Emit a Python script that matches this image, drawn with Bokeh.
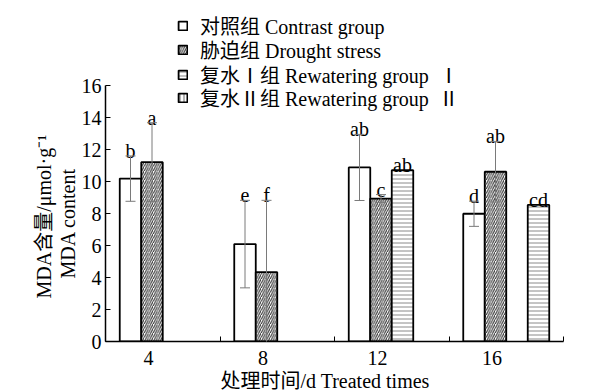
from bokeh.plotting import figure
from bokeh.models import (Range1d, FixedTicker, ColumnDataSource, Whisker, TeeHead,
                          Legend, LegendItem, Title)
from bokeh.embed import file_html
from bokeh.resources import INLINE
from bokeh.core.properties import value

# ---------------- data ----------------
days = [4, 8, 12, 16]
series_labels = ["对照组 Contrast group", "胁迫组 Drought stress",
                 "复水Ⅰ组 Rewatering group  Ⅰ", "复水Ⅱ组 Rewatering group  Ⅱ"]
contrast = [10.2, 6.1, 10.9, 8.0]
contrast_err = [1.42, 2.74, 2.07, 0.79]
contrast_sig = ["b", "e", "ab", "d"]
drought = [11.23, 4.34, 8.95, 10.63]
drought_err = [2.47, 4.5, 0.25, 1.9]
drought_sig = ["a", "f", "c", "ab"]
rewater1 = [None, None, 10.73, None]
rewater1_sig = [None, None, "ab", None]
rewater2 = [None, None, None, 8.55]
rewater2_sig = [None, None, None, "cd"]
y_ticks = [0, 2, 4, 6, 8, 10, 12, 14, 16]
x_label = "处理时间/d Treated times"
y_label_1 = "MDA含量/μmol·g⁻¹"
y_label_2 = "MDA content"

FONT = "'Liberation Serif', 'Noto Sans CJK SC', serif"
W, H = 592, 391
BAR_W = 0.751         # bar width in day units (slot = 4 days)
offsets = [0.5 + (i - 1.5) * BAR_W for i in range(4)]
Y_TOP = 21.354        # frame top so that 16 sits where the reference's axis ends

p = figure(width=W, height=H, x_range=Range1d(2.5, 18.5), y_range=Range1d(0, Y_TOP),
           output_backend="svg", toolbar_location=None,
           min_border_left=105, min_border_right=29, min_border_top=0, min_border_bottom=48)
p.outline_line_color = None
p.xgrid.grid_line_color = None
p.ygrid.grid_line_color = None

styles = [
    dict(fill_color="white"),
    dict(fill_color="white", hatch_pattern="/", hatch_color="#333333", hatch_scale=4.5, hatch_weight=1.1),
    dict(fill_color="white", hatch_pattern="-", hatch_color="#8a8a8a", hatch_scale=4, hatch_weight=1),
    dict(fill_color="white", hatch_pattern="-", hatch_color="#8a8a8a", hatch_scale=4, hatch_weight=1),
]

all_vals = [contrast, drought, rewater1, rewater2]
all_errs = [contrast_err, drought_err, None, None]
all_sigs = [contrast_sig, drought_sig, rewater1_sig, rewater2_sig]

renderers = []
sources = []
for i, (vals, errs, sigs) in enumerate(zip(all_vals, all_errs, all_sigs)):
    xs, tops, uppers, lowers, labs = [], [], [], [], []
    for j, v in enumerate(vals):
        if v is None:
            continue
        xs.append(days[j] + offsets[i])
        tops.append(v)
        e = errs[j] if errs else 0.0
        uppers.append(v + e)
        lowers.append(v - e)
        labs.append(sigs[j] or "")
    src = ColumnDataSource(dict(x=xs, top=tops, upper=uppers, lower=lowers, lab=labs))
    sources.append(src)
    r = p.vbar(x="x", top="top", width=BAR_W, source=src, line_color="black", line_width=1.8,
               **styles[i])
    renderers.append(r)
    if errs:
        w = Whisker(base="x", upper="upper", lower="lower", source=src, line_color="#7a7a7a",
                    line_width=1, level="overlay",
                    upper_head=TeeHead(size=10, line_color="#7a7a7a", line_width=1),
                    lower_head=TeeHead(size=10, line_color="#7a7a7a", line_width=1))
        p.add_layout(w)
    p.text(x="x", y="upper", text="lab", source=src, text_align="center",
           text_baseline="alphabetic", y_offset=-5, text_font=value(FONT),
           text_font_size="20px", text_color="black")

# hidden twin of group II used only for its vertical-hatched legend swatch
leg_r4 = p.vbar(x="x", top="top", width=BAR_W, source=sources[3], fill_color="white",
                line_color="black", line_width=1.8, hatch_pattern="|", hatch_color="#6a6a6a",
                hatch_scale=4, hatch_weight=1, visible=False)
leg_renderers = [renderers[0], renderers[1], renderers[2], leg_r4]

# one single-item legend per row so the row pitch matches the reference
leg_y = [301, 277, 252, 229]   # legend bottoms, pixels above the frame bottom
for lbl, r, ly in zip(series_labels, leg_renderers, leg_y):
    lg = Legend(items=[LegendItem(label=lbl, renderers=[r])],
                location=(72, ly), orientation="vertical",
                background_fill_alpha=0, border_line_color=None, padding=0, margin=0,
                spacing=0, label_height=20, glyph_width=11, glyph_height=11, label_standoff=12,
                label_text_font=FONT, label_text_font_size="20px", label_text_color="black",
                inactive_fill_alpha=0)
    p.add_layout(lg)

# axes
p.xaxis.ticker = FixedTicker(ticks=days, minor_ticks=[2.5, 6.5, 10.5, 14.5, 18.5])
p.xaxis.major_tick_line_color = None
p.xaxis.minor_tick_in = 5
p.xaxis.minor_tick_out = 0
p.xaxis.minor_tick_line_color = "black"
p.xaxis.axis_line_width = 1.5
p.xaxis.axis_line_color = "black"
p.xaxis.major_label_text_font = FONT
p.xaxis.major_label_text_font_size = "20px"
p.xaxis.major_label_text_color = "black"
p.xaxis.major_label_standoff = 3

p.yaxis.ticker = FixedTicker(ticks=y_ticks, minor_ticks=[])
p.yaxis.bounds = (0, 16)
p.yaxis.major_tick_in = 5
p.yaxis.major_tick_out = 0
p.yaxis.major_tick_line_color = "black"
p.yaxis.axis_line_width = 1.5
p.yaxis.axis_line_color = "black"
p.yaxis.major_label_text_font = FONT
p.yaxis.major_label_text_font_size = "20px"
p.yaxis.major_label_text_color = "black"
p.yaxis.major_label_standoff = 4

for txt, off in [(y_label_2, 63), (y_label_1, 43)]:
    t = Title(text=txt, align="left", offset=off, standoff=0, text_font=FONT,
              text_font_size="20px", text_font_style="normal", text_color="black")
    p.add_layout(t, "left")

xt = Title(text=x_label, align="left", offset=115, standoff=0, text_font=FONT,
           text_font_size="20px", text_font_style="normal", text_color="black")
p.add_layout(xt, "below")

open("out.html", "w").write(file_html(p, INLINE))
